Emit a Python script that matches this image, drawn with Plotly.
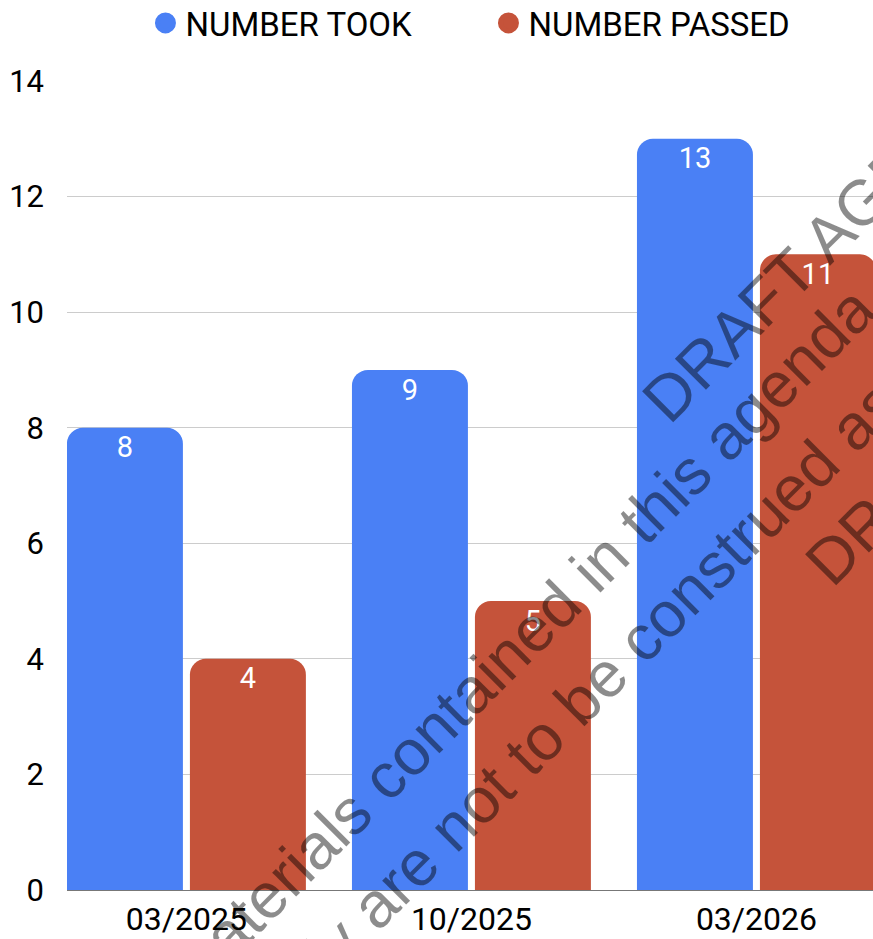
import plotly.graph_objects as go

categories = ["03/2025", "10/2025", "03/2026"]
number_took = [8, 9, 13]
number_passed = [4, 5, 11]
series_names = ["NUMBER TOOK", "NUMBER PASSED"]
y_ticks = [0, 2, 4, 6, 8, 10, 12, 14]

BLUE = "#4a80f5"
RED = "#c5533a"
FONT = "Roboto, Arial, sans-serif"
WM_FONT = "Liberation Sans, Arial, sans-serif"

fig = go.Figure()
series = [(series_names[0], number_took, BLUE, "took"), (series_names[1], number_passed, RED, "passed")]
for name, vals, col, grp in series:
    fig.add_trace(go.Bar(
        x=categories, y=vals, name=name, offsetgroup=grp,
        marker=dict(color=col, line=dict(width=0)),
        showlegend=False, hoverinfo="skip",
    ))
# value labels just inside the top of each bar
for name, vals, col, grp in series:
    fig.add_trace(go.Scatter(
        x=categories, y=vals, mode="markers+text", offsetgroup=grp,
        text=[str(v) for v in vals], textposition="bottom center",
        textfont=dict(color="white", size=29, family=FONT),
        marker=dict(size=11, color="rgba(0,0,0,0)"),
        showlegend=False, hoverinfo="skip",
    ))
# legend proxies (circle symbols)
for name, vals, col, grp in series:
    fig.add_trace(go.Scatter(
        x=[None], y=[None], mode="markers", name=name, offsetgroup=grp,
        marker=dict(symbol="circle", size=16, color=col, line=dict(color=col, width=5)),
    ))

# watermark lines (text, rotated)
wm = [
    ("DRAFT AGENDA", 0.9459, 0.8101),
    ("The materials contained in this agenda", 0.5056, 0.2515),
    ("only are not to be construed as", 0.6337, 0.2320),
    ("DRAFT AGENDA", 1.1481, 0.6087),
]
for txt, xp, yp in wm:
    fig.add_annotation(text=txt, x=xp, y=yp, xref="paper", yref="paper",
                       xanchor="center", yanchor="middle", showarrow=False,
                       textangle=-45, font=dict(family=WM_FONT, size=64, color="rgba(0,0,0,0.45)"))

fig.update_layout(
    width=873, height=939,
    margin=dict(l=67, r=0, t=81, b=49, autoexpand=False),
    paper_bgcolor="white", plot_bgcolor="white",
    barmode="group", bargap=0.137, bargroupgap=0.057, barcornerradius=16,
    scattermode="group", scattergap=0.137,
    font=dict(family=FONT, color="black"),
    legend=dict(orientation="h", x=0.5229, xanchor="center", y=1.0717, yanchor="middle",
                font=dict(size=33, family=FONT, color="black"), entrywidth=298,
                bgcolor="rgba(0,0,0,0)"),
    xaxis=dict(type="category", range=[-0.419, 2.409], showgrid=False, zeroline=False,
               showline=True, linecolor="#777777", linewidth=1, ticks="", automargin=False,
               tickfont=dict(size=32, family=FONT, color="black"), ticklabelstandoff=1),
    yaxis=dict(range=[0, 14], tickvals=y_ticks, showgrid=True, gridcolor="#cccccc",
               gridwidth=1, zeroline=False, showline=False, ticks="", automargin=False,
               tickfont=dict(size=31, family=FONT, color="black"), ticklabelstandoff=22),
)

fig.write_html("out.html")
